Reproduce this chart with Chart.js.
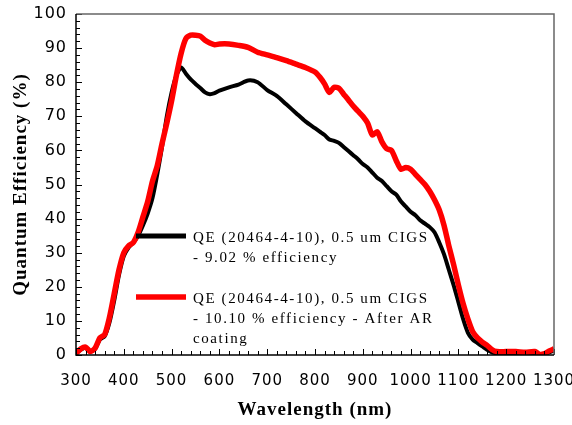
<!DOCTYPE html>
<html>
<head>
<meta charset="utf-8">
<script src="https://cdn.jsdelivr.net/npm/chart.js@4/dist/chart.umd.min.js"></script>
<style>
  html, body { margin: 0; padding: 0; background: #fff; }
  #wrap { width: 572px; height: 425px; }
</style>
</head>
<body>
<div id="wrap"><canvas id="qeChart"></canvas></div>
<script>
// ===============================
//   DATOS
// ===============================
const wavelengths = [
  300, 310, 320, 330, 340, 350, 360, 370, 380, 390,
  400, 410, 420, 430, 440, 450, 460, 470, 480, 490,
  500, 510, 520, 530, 540, 550, 560, 570, 580, 590,
  600, 620, 640, 660, 680, 700, 720, 740, 760, 780,
  800, 810, 820, 830, 840, 850, 860, 870, 880, 890,
  900, 910, 920, 930, 940, 950, 960, 970, 980, 990,
  1000, 1010, 1020, 1030, 1040, 1050, 1060, 1070, 1080, 1090,
  1100, 1110, 1120, 1130, 1140, 1150, 1160, 1170, 1180, 1200,
  1220, 1240, 1260, 1270, 1280, 1290, 1300
];

// QE sin capa AR (9.02 %)
const qeBefore = [
  0.5, 1.5, 2.2, 1.2, 1.8, 4.5, 5.5, 9.5, 16, 23.5,
  29, 31.5, 33, 35, 38, 41.5, 46, 53, 61, 70,
  77, 82, 84.3, 82.5, 80.8, 79.5, 78.3, 77, 76.5, 76.8,
  77.5, 78.5, 79.3, 80.5, 80, 77.7, 76, 73.5, 71, 68.5,
  66.5, 65.5, 64.5, 63.2, 62.8, 62.2, 61, 59.8, 58.6, 57.4,
  56, 55, 53.5, 52, 51, 49.5, 48, 47, 45, 43.5,
  42, 41, 39.5, 38.5, 37.5, 36, 33, 29.5, 25, 20.5,
  15.5, 10.5, 6.5, 4.5, 3.5, 2.5, 1.5, 0.8, 0.5, 0.5,
  0.5, 0.5, 0.6, 0, 0.2, 0.8, 1.3
];

// QE despues de capa AR (10.10 %)
const qeAfter = [
  0.5, 1.8, 2.3, 1.0, 2, 5, 6, 11, 18, 25,
  30, 32, 33, 36, 40.5, 45, 51, 55.5, 62, 68,
  74.5, 82, 88.5, 92.8, 93.8, 93.8, 93.5, 92.3, 91.5, 91,
  91.2, 91.2, 90.8, 90.2, 88.8, 88, 87.2, 86.3, 85.3, 84.3,
  83, 81.5, 79.5, 77, 78.5, 78.2, 76.5, 74.8, 73, 71.5,
  70, 68, 64.5, 65.5, 62.5, 60.5, 60, 57, 54.5, 55,
  54.5, 53, 51.5, 50, 48, 45.5, 42.5, 38, 32, 26.5,
  20.5, 15, 10.5, 6.8, 5, 3.8, 2.8, 1.6, 1, 1,
  1, 0.8, 1, 0.2, 0.4, 1.2, 1.8
];

const seriesLabels = [
  ["QE (20464-4-10), 0.5 um CIGS", "- 9.02 % efficiency"],
  ["QE (20464-4-10), 0.5 um CIGS", "- 10.10 % efficiency - After AR", "coating"]
];
const seriesColors = ["#000000", "#ff0000"];

const toPoints = vals => wavelengths.map((w, i) => ({ x: w, y: vals[i] }));

// ===============================
//   PLUGIN: leyenda dentro del area + ticks interiores + marco
// ===============================
const frameAndLegend = {
  id: "frameAndLegend",
  beforeDraw(chart) {
    // espaciado de letras para las etiquetas de los ejes
    chart.ctx.letterSpacing = "1px";
  },
  beforeDatasetsDraw(chart) {
    chart.ctx.letterSpacing = "0px";
  },
  afterDatasetsDraw(chart) {
    const { ctx, chartArea: a } = chart;
    const rows = [a.top + 222, a.top + 283];
    ctx.save();
    ctx.letterSpacing = "1.6px";
    ctx.font = "15px 'Liberation Serif', 'Times New Roman', serif";
    ctx.fillStyle = "#000";
    ctx.textBaseline = "middle";
    seriesLabels.forEach((lines, i) => {
      const y = rows[i];
      ctx.strokeStyle = seriesColors[i];
      ctx.lineWidth = i === 1 ? 5.5 : 5;
      ctx.beginPath();
      ctx.moveTo(a.left + 60, y);
      ctx.lineTo(a.left + 110, y);
      ctx.stroke();
      lines.forEach((t, k) => {
        ctx.fillText(t, a.left + 117, y + 2 + k * 20);
      });
    });
    ctx.restore();
  },
  afterDraw(chart) {
    const { ctx, chartArea: a, scales } = chart;
    ctx.save();
    ctx.strokeStyle = "#000";
    ctx.lineWidth = 1;
    ctx.beginPath();
    for (let v = 300; v <= 1300; v += 20) {
      const px = Math.round(scales.x.getPixelForValue(v)) + 0.5;
      const len = v % 100 === 0 ? 6 : 4;
      ctx.moveTo(px, a.bottom);
      ctx.lineTo(px, a.bottom - len);
    }
    for (let v = 0; v <= 100; v += 2) {
      const py = Math.round(scales.y.getPixelForValue(v)) + 0.5;
      const len = v % 10 === 0 ? 6 : 4;
      ctx.moveTo(a.left, py);
      ctx.lineTo(a.left + len, py);
    }
    ctx.stroke();

    // marco: arriba y derecha en gris, izquierda y abajo en negro
    ctx.strokeStyle = "#666";
    ctx.lineWidth = 1.5;
    ctx.beginPath();
    ctx.moveTo(a.left, a.top);
    ctx.lineTo(a.right, a.top);
    ctx.lineTo(a.right, a.bottom);
    ctx.stroke();
    ctx.strokeStyle = "#000";
    ctx.lineWidth = 1.5;
    ctx.beginPath();
    ctx.moveTo(a.left, a.top);
    ctx.lineTo(a.left, a.bottom);
    ctx.lineTo(a.right, a.bottom);
    ctx.stroke();
    ctx.restore();
  }
};

// ===============================
//   GRAFICA
// ===============================
const ctx = document.getElementById("qeChart").getContext("2d");

new Chart(ctx, {
  type: "line",
  data: {
    datasets: [
      {
        label: seriesLabels[1].join(" "),
        data: toPoints(qeAfter),
        borderColor: seriesColors[1],
        borderWidth: 5.5,
        pointRadius: 0,
        tension: 0.25,
        order: 0
      },
      {
        label: seriesLabels[0].join(" "),
        data: toPoints(qeBefore),
        borderColor: seriesColors[0],
        borderWidth: 4,
        pointRadius: 0,
        tension: 0.25,
        order: 1
      }
    ]
  },
  options: {
    responsive: true,
    maintainAspectRatio: false,
    animation: false,
    layout: { padding: { left: 0, top: 14, right: 18, bottom: 0 } },
    plugins: {
      legend: { display: false },
      tooltip: { enabled: false }
    },
    scales: {
      x: {
        type: "linear",
        min: 300,
        max: 1300,
        grid: { display: false, drawTicks: false },
        border: { display: false },
        ticks: {
          stepSize: 100,
          padding: 17,
          color: "#000",
          maxRotation: 0,
          callback: v => String(v),
          font: { family: "'DejaVu Sans'", size: 15 }
        },
        title: {
          display: true,
          text: "Wavelength (nm)",
          color: "#000",
          padding: { top: 0, bottom: 4 },
          font: { family: "'Liberation Serif', 'Times New Roman', serif", size: 19, weight: "bold" }
        },
        afterFit: s => {
          s.height = 70;
          s.paddingLeft = 0;
          s.paddingRight = 0;
        }
      },
      y: {
        min: 0,
        max: 100,
        grid: { display: false, drawTicks: false },
        border: { display: false },
        ticks: {
          stepSize: 10,
          padding: 9,
          color: "#000",
          font: { family: "'DejaVu Sans'", size: 16 }
        },
        title: {
          display: true,
          text: "Quantum Efficiency (%)",
          color: "#000",
          padding: { top: 10, bottom: 0 },
          font: { family: "'Liberation Serif', 'Times New Roman', serif", size: 19, weight: "bold" }
        },
        afterFit: s => {
          s.width = 76;
          s.paddingTop = 0;
          s.paddingBottom = 0;
        }
      }
    }
  },
  plugins: [frameAndLegend]
});
</script>
</body>
</html>
